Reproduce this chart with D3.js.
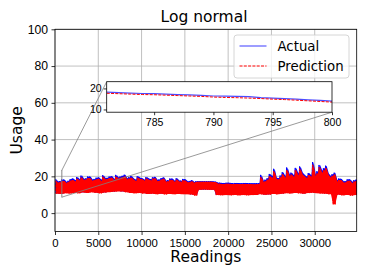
<!DOCTYPE html>
<html>
<head>
<meta charset="utf-8">
<script src="https://cdn.jsdelivr.net/npm/d3@7"></script>
<style>
  body { margin: 0; background: #fff; }
  svg { font-family: "DejaVu Sans", sans-serif; }
</style>
</head>
<body>
<div id="chart"></div>
<script>
// Envolvente superior cada 250 lecturas, inferior cada 500 lecturas
const highBin = 250;
const lowBin = 500;
const totalReadings = 34848;

const actualHigh = [
  18.6, 17.2, 17.4, 18.3, 18.2, 16.9, 17.6, 18.5, 18.8, 17.9, 19.6, 18.4, 20.4, 18.6, 18.9,
  19.9, 19.8, 18.2, 18.6, 19.3, 19.4, 18.1, 20.6, 19.0, 19.2, 19.9, 20.0, 18.6, 20.8, 19.4,
  19.9, 20.3, 20.9, 19.0, 19.5, 20.2, 18.9, 18.1, 20.1, 19.2, 19.0, 18.2, 19.6, 18.8, 18.4,
  19.5, 19.7, 18.0, 18.3, 19.1, 19.4, 17.6, 17.9, 18.8, 18.7, 17.5, 19.0, 17.8, 17.6, 18.6,
  18.3, 17.2, 17.5, 17.9, 16.9, 17.3, 17.3, 17.3, 17.3, 17.3, 17.3, 17.3, 17.3, 17.2, 17.1,
  16.5, 16.5, 16.4, 16.4, 16.5, 16.5, 16.4, 16.3, 16.4, 16.4, 16.3, 16.3, 16.4, 16.4, 16.3,
  16.3, 16.2, 16.2, 16.3, 16.3, 20.8, 17.5, 18.2, 19.0, 21.3, 20.0, 24.1, 19.2, 19.0, 20.5,
  22.3, 20.1, 24.8, 21.0, 22.0, 20.4, 24.6, 21.5, 25.4, 22.0, 20.8, 19.8, 21.8, 20.5, 27.8,
  21.0, 22.8, 26.2, 23.0, 24.4, 25.8, 21.6, 20.2, 21.2, 22.0, 17.9, 18.8, 18.6, 17.2, 17.4,
  18.4, 18.3, 17.0, 17.9, 18.2];

const predHigh = [
  17.8, 16.5, 16.9, 17.5, 17.5, 16.3, 17.0, 17.8, 18.0, 17.2, 18.9, 17.7, 19.5, 17.9, 18.3,
  19.1, 19.0, 17.5, 18.0, 18.5, 18.7, 17.4, 19.8, 18.3, 18.6, 19.1, 19.3, 17.9, 19.9, 18.7,
  19.2, 19.5, 20.0, 18.3, 18.8, 19.4, 18.2, 17.5, 19.3, 18.5, 18.4, 17.6, 18.9, 18.1, 17.8,
  18.8, 19.0, 17.4, 17.7, 18.4, 18.7, 17.0, 17.3, 18.1, 18.0, 16.9, 18.3, 17.2, 17.0, 17.9,
  17.6, 16.6, 16.9, 17.3, 16.5, 17.0, 17.0, 17.0, 17.0, 17.0, 17.0, 17.0, 17.0, 16.9, 16.8,
  16.0, 16.0, 15.9, 15.9, 16.0, 16.0, 15.9, 15.8, 15.9, 15.9, 15.8, 15.8, 15.9, 15.9, 15.8,
  15.8, 15.7, 15.7, 15.8, 15.8, 19.6, 16.8, 17.4, 18.2, 20.2, 19.1, 22.8, 18.4, 18.3, 19.6,
  21.2, 19.3, 23.6, 20.1, 21.0, 19.6, 23.4, 20.6, 24.2, 21.0, 20.0, 19.0, 20.9, 19.6, 26.3,
  20.1, 21.8, 25.0, 22.0, 23.3, 24.6, 20.7, 19.4, 20.3, 21.1, 17.2, 18.0, 17.9, 16.5, 16.8,
  17.6, 17.6, 16.3, 17.2, 17.5];

const actualLow = [10.8, 10.6, 11.0, 10.9, 11.2, 11.0, 11.4, 11.2, 11.5, 11.3,
  11.0, 11.4, 11.6, 11.8, 12.0, 11.9, 11.6, 11.2, 11.0, 11.1,
  10.9, 10.6, 10.8, 10.5, 10.7, 10.4, 10.6, 10.5, 10.6, 10.4,
  10.5, 10.3, 10.2, 12.8, 12.9, 12.8, 12.8, 10.0, 9.9, 10.0,
  9.9, 10.0, 9.9, 10.0, 9.9, 10.0, 10.1, 10.4, 10.2, 10.3,
  10.6, 10.4, 10.8, 11.0, 10.9, 11.2, 11.0, 10.8, 11.1, 11.3,
  11.0, 10.9, 10.8, 10.5, 9.6, 10.2, 9.9, 10.1, 9.8, 10.0];

const predLow = [10.6, 10.4, 10.8, 10.7, 11.0, 10.8, 11.2, 11.0, 11.3, 11.1,
  10.8, 11.2, 11.4, 11.6, 11.8, 11.7, 11.4, 11.0, 10.8, 10.9,
  10.7, 10.4, 10.6, 10.3, 10.5, 10.2, 10.4, 10.3, 10.4, 10.2,
  10.3, 10.1, 9.6, 12.7, 12.8, 12.7, 12.7, 9.8, 9.7, 9.8,
  9.7, 9.8, 9.7, 9.8, 9.7, 9.8, 9.9, 10.2, 10.0, 10.1,
  10.4, 10.2, 10.6, 10.8, 10.7, 11.0, 10.8, 10.6, 10.9, 11.1,
  10.8, 10.7, 10.6, 10.3, 4.8, 10.0, 9.7, 9.9, 9.6, 9.8];

// Zoom: lecturas 781..800
const zoomReadings = [781, 782, 783, 784, 785, 786, 787, 788, 789, 790,
  791, 792, 793, 794, 795, 796, 797, 798, 799, 800];
const zoomActual = [18.2, 18.0, 17.8, 17.6, 17.5, 17.3, 17.1, 16.9, 16.7, 16.4,
  16.3, 16.2, 16.1, 15.6, 15.4, 15.2, 14.9, 14.6, 14.3, 14.0];
const zoomPred = [17.7, 17.5, 17.3, 17.1, 17.0, 16.8, 16.6, 16.4, 16.2, 15.9,
  15.7, 15.6, 15.4, 15.2, 14.9, 14.7, 14.4, 14.1, 13.8, 13.5];

const xTicks = [0, 5000, 10000, 15000, 20000, 25000, 30000];
const yTicks = [0, 20, 40, 60, 80, 100];
const zoomXTicks = [785, 790, 795, 800];
const zoomYTicks = [10, 20];

const W = 365, H = 274;
const plot = { left: 55, right: 356.7, top: 29.3, bottom: 231.5 };
const inset = { left: 106.7, right: 332, top: 81.7, bottom: 112.2 };

const svg = d3.select('#chart').append('svg')
  .attr('width', W).attr('height', H);

const x = d3.scaleLinear().domain([0, totalReadings]).range([plot.left, plot.right]);
const y = d3.scaleLinear().domain([-10, 100]).range([plot.bottom, plot.top]);

// Rejilla
svg.append('g').selectAll('line').data(xTicks).enter().append('line')
  .attr('x1', d => x(d)).attr('x2', d => x(d))
  .attr('y1', plot.top).attr('y2', plot.bottom)
  .style('stroke', '#b0b0b0').style('stroke-width', 0.8);
svg.append('g').selectAll('line').data(yTicks).enter().append('line')
  .attr('x1', plot.left).attr('x2', plot.right)
  .attr('y1', d => y(d)).attr('y2', d => y(d))
  .style('stroke', '#b0b0b0').style('stroke-width', 0.8);

svg.append('clipPath').attr('id', 'clipMain').append('rect')
  .attr('x', plot.left).attr('y', plot.top)
  .attr('width', plot.right - plot.left).attr('height', plot.bottom - plot.top);

const dataG = svg.append('g').attr('clip-path', 'url(#clipMain)');

function drawBand(high, low, color, dashed) {
  const lowAt = i => low[Math.min(low.length - 1, Math.floor(i * highBin / lowBin))];
  const pts = [];
  high.forEach((h, i) => {
    pts.push([i * highBin, h]);
    pts.push([Math.min(i * highBin + highBin / 2, totalReadings), lowAt(i)]);
  });
  pts.push([totalReadings, high[high.length - 1]]);

  const area = d3.area()
    .x((d, i) => x(Math.min(i * highBin + highBin / 2, totalReadings)))
    .y0((d, i) => y(lowAt(i)))
    .y1(d => y(d));
  dataG.append('path')
    .datum(high)
    .attr('d', area)
    .style('fill', color)
    .style('stroke', 'none');

  dataG.append('path')
    .datum(pts)
    .attr('d', d3.line().x(d => x(d[0])).y(d => y(d[1])))
    .style('fill', 'none')
    .style('stroke', color)
    .style('stroke-width', 1)
    .style('stroke-dasharray', dashed ? '3,1' : null);
}

drawBand(actualHigh, actualLow, '#0000ff', false);
drawBand(predHigh, predLow, '#ff0000', true);

// Marco del zoom y conectores
const zx0 = zoomReadings[0], zx1 = zoomReadings[zoomReadings.length - 1];
const zy = d3.scaleLinear().domain([8.7, 23.2]).range([inset.bottom, inset.top]);
const zx = d3.scaleLinear().domain([zx0, zx1]).range([inset.left, inset.right]);

svg.append('rect')
  .attr('x', x(zx0)).attr('y', y(zy.domain()[1]))
  .attr('width', x(zx1) - x(zx0))
  .attr('height', y(zy.domain()[0]) - y(zy.domain()[1]))
  .style('fill', 'none').style('stroke', '#808080').style('stroke-width', 0.8);
svg.append('line')
  .attr('x1', x(zx0)).attr('y1', y(zy.domain()[1]))
  .attr('x2', inset.left).attr('y2', inset.top)
  .style('stroke', '#808080').style('stroke-width', 0.8);
svg.append('line')
  .attr('x1', x(zx1)).attr('y1', y(zy.domain()[0]))
  .attr('x2', inset.right).attr('y2', inset.bottom)
  .style('stroke', '#808080').style('stroke-width', 0.8);

// Marco de ejes
svg.append('rect')
  .attr('x', plot.left).attr('y', plot.top)
  .attr('width', plot.right - plot.left).attr('height', plot.bottom - plot.top)
  .style('fill', 'none').style('stroke', '#000').style('stroke-width', 0.8);

// Ejes principales
const axX = svg.append('g')
  .attr('transform', `translate(0,${plot.bottom})`)
  .call(d3.axisBottom(x).tickValues(xTicks).tickSize(3.5).tickPadding(3.5).tickFormat(d3.format('d')));
const axY = svg.append('g')
  .attr('transform', `translate(${plot.left},0)`)
  .call(d3.axisLeft(y).tickValues(yTicks).tickSize(3.5).tickPadding(3.5));
[axX, axY].forEach(a => {
  a.select('.domain').remove();
  a.selectAll('line').style('stroke', '#000').style('stroke-width', 0.8);
});
axX.selectAll('text').style('font-size', '11.4px').style('fill', '#000');
axY.selectAll('text').style('font-size', '12.2px').style('fill', '#000');

// Inset
svg.append('rect')
  .attr('x', inset.left).attr('y', inset.top)
  .attr('width', inset.right - inset.left).attr('height', inset.bottom - inset.top)
  .style('fill', '#fff');
svg.append('clipPath').attr('id', 'clipInset').append('rect')
  .attr('x', inset.left).attr('y', inset.top)
  .attr('width', inset.right - inset.left).attr('height', inset.bottom - inset.top);
const insetG = svg.append('g').attr('clip-path', 'url(#clipInset)');
insetG.append('path')
  .datum(zoomActual)
  .attr('d', d3.line().x((d, i) => zx(zoomReadings[i])).y(d => zy(d)))
  .style('fill', 'none').style('stroke', '#0000ff').style('stroke-opacity', 0.7).style('stroke-width', 1.2);
insetG.append('path')
  .datum(zoomPred)
  .attr('d', d3.line().x((d, i) => zx(zoomReadings[i])).y(d => zy(d)))
  .style('fill', 'none').style('stroke', '#ff0000').style('stroke-width', 1)
  .style('stroke-dasharray', '3,1.3');
svg.append('rect')
  .attr('x', inset.left).attr('y', inset.top)
  .attr('width', inset.right - inset.left).attr('height', inset.bottom - inset.top)
  .style('fill', 'none').style('stroke', '#000').style('stroke-width', 0.8);

const izX = svg.append('g')
  .attr('transform', `translate(0,${inset.bottom})`)
  .call(d3.axisBottom(zx).tickValues(zoomXTicks).tickSize(3).tickPadding(3));
const izY = svg.append('g')
  .attr('transform', `translate(${inset.left},0)`)
  .call(d3.axisLeft(zy).tickValues(zoomYTicks).tickSize(3).tickPadding(2));
[izX, izY].forEach(a => {
  a.select('.domain').remove();
  a.selectAll('text').style('font-size', '10.5px').style('fill', '#000');
  a.selectAll('line').style('stroke', '#000').style('stroke-width', 0.8);
});

// Leyenda
const leg = svg.append('g');
leg.append('rect')
  .attr('x', 234).attr('y', 35).attr('width', 115).attr('height', 43)
  .attr('rx', 3)
  .style('fill', '#fff').style('fill-opacity', 0.8)
  .style('stroke', '#cccccc').style('stroke-width', 0.8);
const legendItems = [
  { label: 'Actual', color: '#0000ff', dash: null, opacity: 0.7 },
  { label: 'Prediction', color: '#ff0000', dash: '3,1.3', opacity: 1 }
];
legendItems.forEach((d, i) => {
  const ly = 46 + i * 20;
  leg.append('line')
    .attr('x1', 239.5).attr('x2', 266.5).attr('y1', ly).attr('y2', ly)
    .style('stroke', d.color).style('stroke-width', 1.1)
    .style('stroke-opacity', d.opacity)
    .style('stroke-dasharray', d.dash);
  leg.append('text')
    .attr('x', 277.5).attr('y', ly)
    .attr('dy', '0.36em')
    .style('font-size', '13.3px')
    .text(d.label);
});

// Títulos
svg.append('text')
  .attr('x', 204).attr('y', 21.5)
  .attr('text-anchor', 'middle')
  .style('font-size', '15.5px')
  .text('Log normal');
svg.append('text')
  .attr('x', (plot.left + plot.right) / 2).attr('y', 262)
  .attr('text-anchor', 'middle')
  .style('font-size', '15.5px')
  .text('Readings');
svg.append('text')
  .attr('transform', `translate(21.5,${(plot.top + plot.bottom) / 2}) rotate(-90)`)
  .attr('text-anchor', 'middle')
  .style('font-size', '15.5px')
  .text('Usage');
</script>
</body>
</html>
